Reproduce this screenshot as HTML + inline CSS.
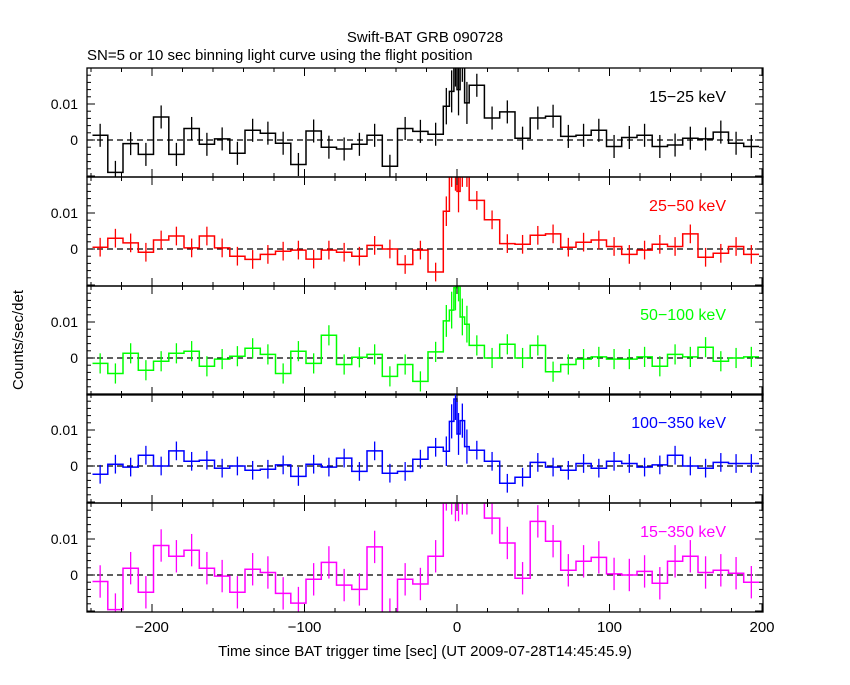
<!DOCTYPE html>
<html><head><meta charset="utf-8"><style>
body{margin:0;background:#fff;}
svg text{font-family:"Liberation Sans",sans-serif;}
</style></head><body>
<svg id="c" width="850" height="680" xmlns="http://www.w3.org/2000/svg">
<rect width="850" height="680" fill="#fff"/>
<text x="425" y="42" font-size="15" text-anchor="middle">Swift-BAT GRB 090728</text>
<text x="87" y="60" font-size="15">SN=5 or 10 sec binning light curve using the flight position</text>
<text transform="translate(23,340) rotate(-90)" font-size="15" text-anchor="middle">Counts/sec/det</text>
<text x="425" y="656" font-size="15" text-anchor="middle">Time since BAT trigger time [sec] (UT 2009-07-28T14:45:45.9)</text>
</svg>
<script>
const edges = [-239,-229,-219,-209,-199,-189,-179,-169,-159,-149,-139,-129,-119,-109,-99,-89,-79,-69,-59,-49,-39,-29,-19,-9,-5,-2,0,2,5,8,18,28,38,48,58,68,78,88,98,108,118,128,138,148,158,168,178,188,198];
const bands = ["15-25 keV","25-50 keV","50-100 keV","100-350 keV","15-350 keV"];
const s1 = [1.3,-9,-1,-4,6.4,-4,3.2,-1.2,0.3,-3.7,2.7,1.9,-0.9,-6.8,2.5,-2,-2.5,-1.2,1.3,-7.3,3.2,2.4,1.6, 9.4,13.5,22,14,22,10.3,15.2,6.1, 7.8,0.5,6.1,6.6,1,1.3,2.7,-1.8,0.7,1.3,-1.8,-1.4,0.5,0.3,2.2,-0.9,-1.8];
const s2 = [0.5,3,1.7,-0.9,2.5,3.6,0.3,3.6,0.3,-2,-2.9,-1.5,-0.6,-0.3,-2.8,-0.3,-0.9,-2,1,0,-4.3,-0.3,-6.4, 10.5,22,22,16,22,22,13.5,8.1, 1.5,1.3,3.8,4.2,0.5,1.9,2.5,0.7,-1.5,-0.3,1.3,0.7,4.2,-2.3,-1.2,0.7,-1.5];
const s3 = [-1.5,-4.3,1.3,-3.4,-0.9,1.3,1.9,-2.3,-0.3,0.5,2.7,1,-4.3,1.9,-1.5,6.3,-1.8,0.2,1,-5.1,-1.8,-6.5,1.7, 10.3,13.3,19.5,22,11.4,9.4,3.5,0, 3.8,0,3.5,-3.8,-1.8,-0.3,0.3,-0.3,-0.3,0.3,-2.3,1,0.3,3,-0.9,0,0.3];
const s4 = [-2.3,0.5,-0.3,3,0,4.2,1.3,1.6,-0.6,0,-1.2,-0.9,0.3,-2.9,0.5,-0.3,2.2,-1.5,4.2,-2,-1.5,1.9,5.2, 4.1,12.4,18.6,8.9,12.6,5.4,4.4,1.3, -4.8,-3.1,1,-0.3,-1.2,0.7,-0.6,1.3,0.7,-0.3,0.3,3,0,-0.6,1,0.7,0.7];
const s5 = [-1.8,-9.6,1.9,-4.8,8.2,5.2,6.9,1.9,-0.3,-4.8,1.6,0.7,-5.1,-7.8,-1.2,3.5,-2.8,-4,7.8,-11,-1.2,-2.5,5.2, 25,25,25,25,25,25,25,15.8, 8.9,-0.9,14.9,9.4,1.3,3.8,4.9,0.3,0,1,-2.3,3.8,5.2,0.7,1.3,0.5,-2];
const errBase = [3.2,2.6,2.8,2.6,4.5];
const xTicks = [-200,-100,0,100,200];
const yTicks = [0,0.01];
const series = [s1,s2,s3,s4,s5];
const colors = ["#000","#f00","#0f0","#00f","#f0f"];
const tops = [68,177,286,394,503];
const PH = 109, X0 = 87, X1 = 763;
const NS = "http://www.w3.org/2000/svg";
const svg = document.getElementById('c');
function xs(t){ return 457 + t*1.525; }
function mk(tag, attrs, parent){ const e=document.createElementNS(NS,tag); for(const k in attrs) e.setAttribute(k,attrs[k]); (parent||svg).appendChild(e); return e; }
series.forEach((vals,p)=>{
  const top = tops[p];
  const ys = v => top + 72 - v*3.6;
  const g = mk('g',{});
  
  
  const cid='clip'+p;
  const cp = mk('clipPath',{id:cid},g); mk('rect',{x:X0,y:top,width:X1-X0,height:PH},cp);
  const dg = mk('g',{'clip-path':'url(#'+cid+')'},g);
  const z = mk('line',{x1:X0,x2:X1,y1:ys(0),y2:ys(0),stroke:'#000','stroke-dasharray':'6,4','stroke-width':1.2},dg);
  
  
  let d='';
  vals.forEach((v,i)=>{
    const xa=xs(edges[i]), xb=xs(edges[i+1]), y=ys(v);
    d += (i===0?'M':'L')+xa.toFixed(1)+','+y.toFixed(1)+'L'+xb.toFixed(1)+','+y.toFixed(1);
    const w=edges[i+1]-edges[i];
    const e=errBase[p]*Math.sqrt(10/w);
    const xc=(xa+xb)/2;
    const eb = mk('line',{x1:xc,x2:xc,y1:ys(v+e),y2:ys(v-e),stroke:colors[p],'stroke-width':1.3},dg);
    
    
  });
  const path = mk('path',{d:d,fill:'none',stroke:colors[p],'stroke-width':1.5},dg);
  
  
  mk('rect',{x:X0,y:top,width:X1-X0,height:PH,fill:'none',stroke:'#000','stroke-width':1.3},g);
  for(let t=-240;t<=200;t+=20){
    const x=xs(t); const L=(t%100===0)?8:4;
    mk('line',{x1:x,x2:x,y1:top,y2:top+L,stroke:'#000'},g);
    mk('line',{x1:x,x2:x,y1:top+PH,y2:top+PH-L,stroke:'#000'},g);
  }
  for(let k=-5;k<=10;k++){
    const v=k*2; const y=ys(v); if(y<top||y>top+PH) continue;
    const L=(k%5===0)?8:4;
    mk('line',{x1:X0,x2:X0+L,y1:y,y2:y,stroke:'#000'},g);
    mk('line',{x1:X1,x2:X1-L,y1:y,y2:y,stroke:'#000'},g);
  }
  yTicks.forEach(v=>{
    const t=mk('text',{x:X0-9,y:ys(v*1000)+5,'font-size':14,'text-anchor':'end'},g);
    t.textContent = v===0?'0':String(v);
    
    
  });
  const lb=mk('text',{x:726,y:top+34,'font-size':16,'text-anchor':'end',fill:colors[p]},g);
  lb.textContent=bands[p].replace('-','\u2212');
  
  
});
xTicks.forEach(t=>{
  const e=mk('text',{x:xs(t),y:632,'font-size':15,'text-anchor':'middle'});
  e.textContent = t<0 ? '\u2212'+(-t) : String(t);
  
  
});
</script>
</body></html>
